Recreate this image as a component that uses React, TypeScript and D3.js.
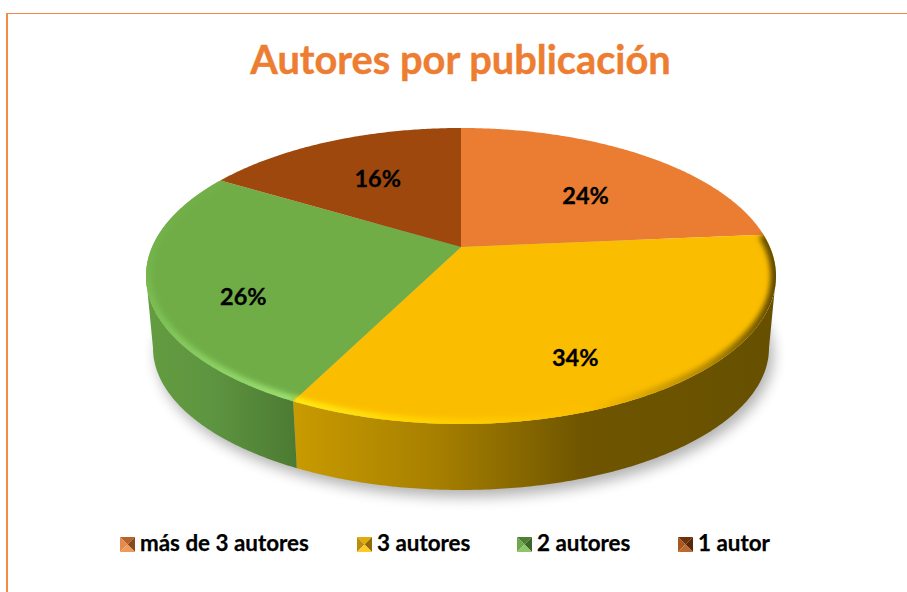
import React from "react";
import * as d3 from "d3";

const categories = ["más de 3 autores", "3 autores", "2 autores", "1 autor"];
const shares = [23.6, 33.8, 26.2, 16.4];
const topColors = ["#EA7D32", "#FBBD00", "#70AD47", "#9E480E"];
const title = "Autores por publicación";

const W = 907, H = 592;
const CX = 461;
const topE = { rx: 315, cy: 276, ry: 148 };
const botE = { rx: 308, cy: 348, ry: 142 };
const apexShift = -0.196; // perspective: position of pie centre within the ellipse
const labelNudge = [[13, 5], [3, 35], [-40, 26], [-3, -3]];
const legendX = [120, 357, 517, 678];

const pieGen = d3.pie<number>().value((d) => d).sort(null);
const arcs = pieGen(shares);

function project(angle: number, r: number): [number, number] {
  const x = r * Math.sin(angle), y = -r * Math.cos(angle);
  const a = apexShift;
  const den = 1 + a * y;
  return [(x * Math.sqrt(1 - a * a)) / den, (y + a) / den];
}
const scalesFor = (e: typeof topE) => ({
  x: d3.scaleLinear().domain([-1, 1]).range([CX - e.rx, CX + e.rx]),
  y: d3.scaleLinear().domain([-1, 1]).range([e.cy - e.ry, e.cy + e.ry]),
});
const topS = scalesFor(topE), botS = scalesFor(botE);
const pt = (s: typeof topS, angle: number, r = 1): [number, number] => {
  const [u, v] = project(angle, r);
  return [s.x(u), s.y(v)];
};
const line = d3.line();
const samples = (a0: number, a1: number, step = 0.01) => {
  const n = Math.max(2, Math.ceil((a1 - a0) / step));
  return d3.range(n + 1).map((i) => a0 + ((a1 - a0) * i) / n);
};
const topPath = (a0: number, a1: number) =>
  line([pt(topS, 0, 0), ...samples(a0, a1).map((t) => pt(topS, t))])! + "Z";
// The wall only exists between the two silhouette tangents of the cylinder.
const tRight = Math.acos(apexShift);
const tLeft = 2 * Math.PI - tRight;
const sidePath = (a0: number, a1: number) => {
  const s = Math.max(a0, tRight), e = Math.min(a1, tLeft);
  if (e <= s) return null;
  const ts = samples(s, e);
  return line([...ts.map((t) => pt(topS, t)), ...ts.slice().reverse().map((t) => pt(botS, t))])! + "Z";
};
const rimPath = (a0: number, a1: number) => line(samples(a0, a1).map((t) => pt(topS, t)))!;
const fullTop = line(samples(0, Math.PI * 2).map((t) => pt(topS, t)))! + "Z";
const fullBot = line(samples(0, Math.PI * 2).map((t) => pt(botS, t)))! + "Z";
const fmt = d3.format(".0%");

const markerShades: string[][] = [
  ["#B5622B", "#E58A4C", "#8A4A20", "#F09A5A"],
  ["#E0AC08", "#B98D10", "#8F6C08", "#FFC926"],
  ["#4F7F33", "#6FA84C", "#3E6628", "#8CC66A"],
  ["#6E320A", "#A8571E", "#57280A", "#BC6A30"],
];

export default function App() {
  return (
    <svg width={W} height={H} style={{ position: "absolute", left: 0, top: 0, background: "#fff" }}>
      <defs>
        <filter id="soft" x="-20%" y="-20%" width="140%" height="140%">
          <feGaussianBlur stdDeviation="7" />
        </filter>
        <filter id="rimBlur" x="-10%" y="-10%" width="120%" height="120%">
          <feGaussianBlur stdDeviation="2.4" />
        </filter>
        <clipPath id="topClip"><path d={fullTop} /></clipPath>
        <linearGradient id="sideYellow" gradientUnits="userSpaceOnUse" x1="293" x2="776" y1="0" y2="0">
          <stop offset="0" stopColor="#C99B00" />
          <stop offset="0.3" stopColor="#A67F00" />
          <stop offset="0.6" stopColor="#6F5500" />
          <stop offset="1" stopColor="#665000" />
        </linearGradient>
        <linearGradient id="sideGreen" gradientUnits="userSpaceOnUse" x1="146" x2="297" y1="0" y2="0">
          <stop offset="0" stopColor="#649C40" />
          <stop offset="0.45" stopColor="#5D9440" />
          <stop offset="1" stopColor="#4C7A32" />
        </linearGradient>
        <linearGradient id="rimYellow" gradientUnits="userSpaceOnUse" x1="293" x2="776" y1="0" y2="0">
          <stop offset="0" stopColor="#FFEA10" />
          <stop offset="0.3" stopColor="#FFD000" />
          <stop offset="0.62" stopColor="#FBBD00" />
          <stop offset="0.85" stopColor="#B58A00" />
          <stop offset="1" stopColor="#5E4900" />
        </linearGradient>
        <linearGradient id="rimGreen" gradientUnits="userSpaceOnUse" x1="293" x2="146" y1="400" y2="230">
          <stop offset="0" stopColor="#9BE070" />
          <stop offset="0.6" stopColor="#80C558" />
          <stop offset="1" stopColor="#70AD47" />
        </linearGradient>
      </defs>

      <path d={fullBot} fill="#000" opacity={0.3} filter="url(#soft)" transform="translate(4,7)" />

      {arcs.map((a, i) => {
        const d = sidePath(a.startAngle, a.endAngle);
        if (!d) return null;
        const paint = i === 1 ? "url(#sideYellow)" : i === 2 ? "url(#sideGreen)" : topColors[i];
        return <path key={"side" + i} d={d} fill={paint} />;
      })}

      {arcs.map((a, i) => (
        <path key={"top" + i} d={topPath(a.startAngle, a.endAngle)} fill={topColors[i]} />
      ))}

      <g clipPath="url(#topClip)">
        {arcs.map((a, i) =>
          i === 1 || i === 2 ? (
            <path
              key={"rim" + i}
              d={rimPath(a.startAngle, a.endAngle)}
              fill="none"
              stroke={i === 1 ? "url(#rimYellow)" : "url(#rimGreen)"}
              strokeWidth={11}
              filter="url(#rimBlur)"
            />
          ) : null
        )}
      </g>

      {arcs.map((a, i) => {
        const mid = (a.startAngle + a.endAngle) / 2;
        const [x, y] = pt(topS, mid, 0.58);
        return (
          <text
            key={"lab" + i}
            x={x + labelNudge[i][0]}
            y={y + labelNudge[i][1]}
            dy="0.35em"
            textAnchor="middle"
            fontFamily="Lato"
            fontWeight={700}
            fontSize={23.5}
            stroke="#000"
            strokeWidth={0.3}
            fill="#000"
          >
            {fmt(shares[i] / 100)}
          </text>
        );
      })}

      <text x={460.5} y={74} textAnchor="middle" fontFamily="Lato" fontWeight={700} fontSize={39.8} fill="#ED7D31" stroke="#ED7D31" strokeWidth={0.4}>
        {title}
      </text>

      {categories.map((c, i) => {
        const x = legendX[i], y = 537, s = 15;
        const m = s / 2;
        const tris = [
          `M${x},${y}L${x + s},${y}L${x + m},${y + m}Z`,
          `M${x},${y}L${x},${y + s}L${x + m},${y + m}Z`,
          `M${x + s},${y}L${x + s},${y + s}L${x + m},${y + m}Z`,
          `M${x},${y + s}L${x + s},${y + s}L${x + m},${y + m}Z`,
        ];
        return (
          <g key={c}>
            {tris.map((d, k) => <path key={k} d={d} fill={markerShades[i][k]} />)}
            <text x={x + 20} y={y + 14} fontFamily="Lato" fontWeight={700} fontSize={22.4} fill="#000" stroke="#000" strokeWidth={0.25}>
              {c}
            </text>
          </g>
        );
      })}

      <rect x={6} y={13} width={901} height={1} fill="#F0884A" />
      <rect x={6} y={13} width={2} height={H - 13} fill="#F58B45" />
    </svg>
  );
}
